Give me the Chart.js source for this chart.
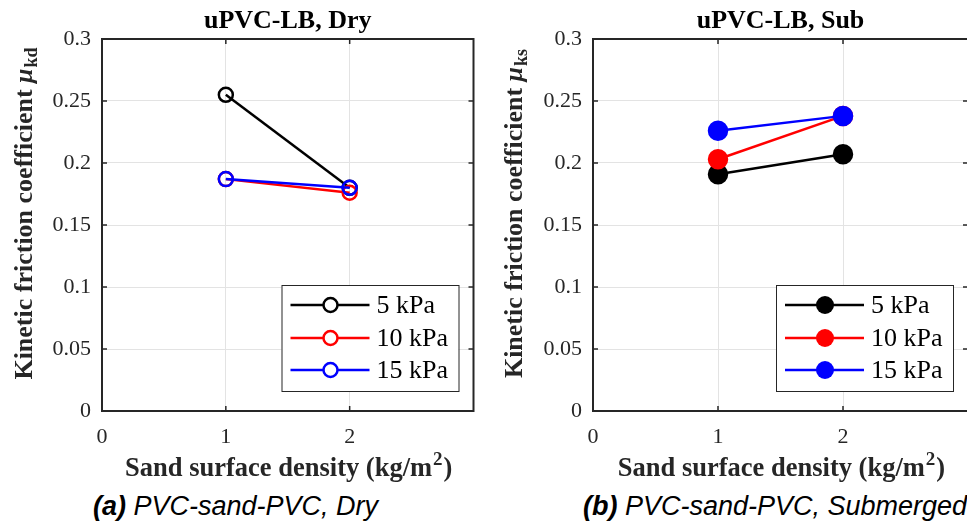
<!DOCTYPE html>
<html>
<head>
<meta charset="utf-8">
<script src="https://cdn.jsdelivr.net/npm/chart.js@4.4.1/dist/chart.umd.min.js"></script>
<style>
  html, body { margin: 0; padding: 0; background: #fff; overflow: hidden; width: 967px; height: 524px; }
  canvas { position: absolute; top: 0; }
  .cap { position: absolute; top: 491px; font-family: "Liberation Sans", Arial, sans-serif; font-style: italic; font-size: 27px; color: #000; white-space: nowrap; }
  .cap b { font-weight: bold; }
</style>
</head>
<body>
<canvas id="dryChart" width="483" height="490" style="left:0px"></canvas>
<canvas id="subChart" width="491" height="490" style="left:491px"></canvas>
<div class="cap" style="left:93px"><b>(a)</b> PVC-sand-PVC, Dry</div>
<div class="cap" style="left:583px"><b>(b)</b> PVC-sand-PVC, Submerged</div>
<script>
// sand surface density (kg/m2)
var densities = [1, 2];
var pressures = ["5 kPa", "10 kPa", "15 kPa"];
var colors = ["#000000", "#ff0000", "#0000ff"];

// kinetic friction coefficient, dry
var dry5 = [0.255, 0.180];
var dry10 = [0.187, 0.176];
var dry15 = [0.187, 0.180];

// kinetic friction coefficient, submerged
var sub5 = [0.191, 0.207];
var sub10 = [0.203, 0.238];
var sub15 = [0.226, 0.238];

var xTicks = [0, 1, 2];
var yTicks = [0, 0.05, 0.1, 0.15, 0.2, 0.25, 0.3];

var serif = "'Liberation Serif', 'Times New Roman', serif";
var ink = "#262626";

function pts(vals) {
  return vals.map(function (v, i) { return { x: densities[i], y: v }; });
}

function line(ctx, x1, y1, x2, y2) {
  ctx.beginPath(); ctx.moveTo(x1, y1); ctx.lineTo(x2, y2); ctx.stroke();
}

var decor = {
  id: 'decor',
  afterDatasetsDraw: function (chart, args, o) {
    var ctx = chart.ctx, a = chart.chartArea, x = chart.scales.x, y = chart.scales.y;
    ctx.save();
    // inward ticks on all four sides
    ctx.strokeStyle = ink; ctx.lineWidth = 1.5;
    xTicks.forEach(function (v) {
      var px = x.getPixelForValue(v);
      line(ctx, px, a.bottom, px, a.bottom - 5);
      line(ctx, px, a.top, px, a.top + 5);
    });
    yTicks.forEach(function (v) {
      var py = y.getPixelForValue(v);
      line(ctx, a.left, py, a.left + 5, py);
      line(ctx, a.right, py, a.right - 5, py);
    });
    ctx.lineWidth = 2;
    ctx.strokeRect(a.left, a.top, a.right - a.left, a.bottom - a.top);

    // title
    var cx = (a.left + a.right) / 2;
    ctx.fillStyle = '#000';
    ctx.textAlign = 'center'; ctx.textBaseline = 'middle';
    ctx.font = 'bold 26px ' + serif;
    ctx.fillText(o.title, cx, 21);

    // x axis title with superscript
    ctx.fillStyle = ink;
    ctx.textAlign = 'left'; ctx.textBaseline = 'alphabetic';
    var f1 = 'bold 26.5px ' + serif, f2 = 'bold 19px ' + serif;
    ctx.font = f1; var w1 = ctx.measureText('Sand surface density (kg/m').width, w3 = ctx.measureText(')').width;
    ctx.font = f2; var w2 = ctx.measureText('2').width;
    var sx = cx - (w1 + w2 + w3) / 2, by = 476;
    ctx.font = f1; ctx.fillText('Sand surface density (kg/m', sx, by);
    ctx.font = f2; ctx.fillText('2', sx + w1 + 1, by - 11);
    ctx.font = f1; ctx.fillText(')', sx + w1 + w2 + 2, by);

    // y axis title with subscript
    ctx.save();
    ctx.translate(o.ylabelX, 214);
    ctx.rotate(-Math.PI / 2);
    var g1 = 'bold 26px ' + serif, g2 = 'italic bold 26px ' + serif, g3 = 'bold 18px ' + serif;
    var t1 = 'Kinetic friction coefficient ';
    ctx.font = g1; var v1 = ctx.measureText(t1).width;
    ctx.font = g2; var v2 = ctx.measureText('\u03bc').width;
    ctx.font = g3; var v3 = ctx.measureText(o.sub).width;
    var s0 = -(v1 + v2 + v3) / 2;
    ctx.textBaseline = 'middle';
    ctx.font = g1; ctx.fillText(t1, s0, 0);
    ctx.font = g2; ctx.fillText('\u03bc', s0 + v1, 0);
    ctx.font = g3; ctx.fillText(o.sub, s0 + v1 + v2 + 1, 7);
    ctx.restore();

    // legend inside plot area, bottom right
    var bw = 177, bh = 106;
    var lx = a.right - 15 - bw, ly = a.bottom - 20 - bh;
    ctx.fillStyle = '#fff';
    ctx.fillRect(lx, ly, bw, bh);
    ctx.strokeStyle = ink; ctx.lineWidth = 1;
    ctx.strokeRect(lx + 0.5, ly + 0.5, bw, bh);
    var rows = [20, 53, 85];
    chart.data.datasets.forEach(function (ds, i) {
      var ry = ly + rows[i];
      ctx.strokeStyle = ds.borderColor; ctx.lineWidth = ds.borderWidth;
      line(ctx, lx + 9, ry, lx + 88, ry);
      ctx.beginPath(); ctx.arc(lx + 49, ry, ds.pointRadius, 0, Math.PI * 2);
      if (o.filled) { ctx.fillStyle = ds.borderColor; ctx.fill(); }
      else { ctx.fillStyle = '#fff'; ctx.fill(); ctx.lineWidth = 2.5; ctx.stroke(); }
      ctx.fillStyle = '#000';
      ctx.font = '26px ' + serif; ctx.textAlign = 'left'; ctx.textBaseline = 'middle';
      ctx.fillText(ds.label, lx + 95, ry + 1);
    });
    ctx.restore();
  }
};

function makeChart(id, series, opts) {
  var canvas = document.getElementById(id);
  var datasets = series.map(function (vals, i) {
    return {
      label: pressures[i],
      data: pts(vals),
      borderColor: colors[i],
      backgroundColor: opts.filled ? colors[i] : 'rgba(0,0,0,0)',
      borderWidth: 2.5,
      pointRadius: opts.filled ? 9 : 7,
      pointBorderWidth: 2.5,
      pointBackgroundColor: opts.filled ? colors[i] : 'rgba(0,0,0,0)',
      order: 3 - i
    };
  });
  return new Chart(canvas.getContext('2d'), {
    type: 'line',
    data: { datasets: datasets },
    options: {
      responsive: false,
      animation: false,
      layout: { padding: { top: 39, right: opts.padRight, left: 0, bottom: 0 } },
      plugins: { legend: { display: false }, tooltip: { enabled: false }, decor: opts },
      scales: {
        x: {
          type: 'linear', min: 0, max: 3,
          afterBuildTicks: function (s) { s.ticks = xTicks.map(function (v) { return { value: v }; }); },
          afterFit: function (s) { s.height = 79; },
          grid: { color: '#e3e3e3', lineWidth: 1, drawTicks: false },
          border: { display: false },
          ticks: { color: ink, font: { family: serif, size: 22 }, padding: 13 }
        },
        y: {
          min: 0, max: 0.3,
          afterBuildTicks: function (s) { s.ticks = yTicks.map(function (v) { return { value: v }; }); },
          afterFit: function (s) { s.width = 102; },
          grid: { color: '#e3e3e3', lineWidth: 1, drawTicks: false },
          border: { display: false },
          ticks: {
            color: ink, font: { family: serif, size: 22 }, padding: 11,
            callback: function (v) { return String(Math.round(v * 100) / 100); }
          }
        }
      }
    },
    plugins: [decor]
  });
}

makeChart('dryChart', [dry5, dry10, dry15], { title: 'uPVC-LB, Dry', sub: 'kd', filled: false, padRight: 8, ylabelX: 25 });
makeChart('subChart', [sub5, sub10, sub15], { title: 'uPVC-LB, Sub', sub: 'ks', filled: true, padRight: 14, ylabelX: 24 });
</script>
</body>
</html>
